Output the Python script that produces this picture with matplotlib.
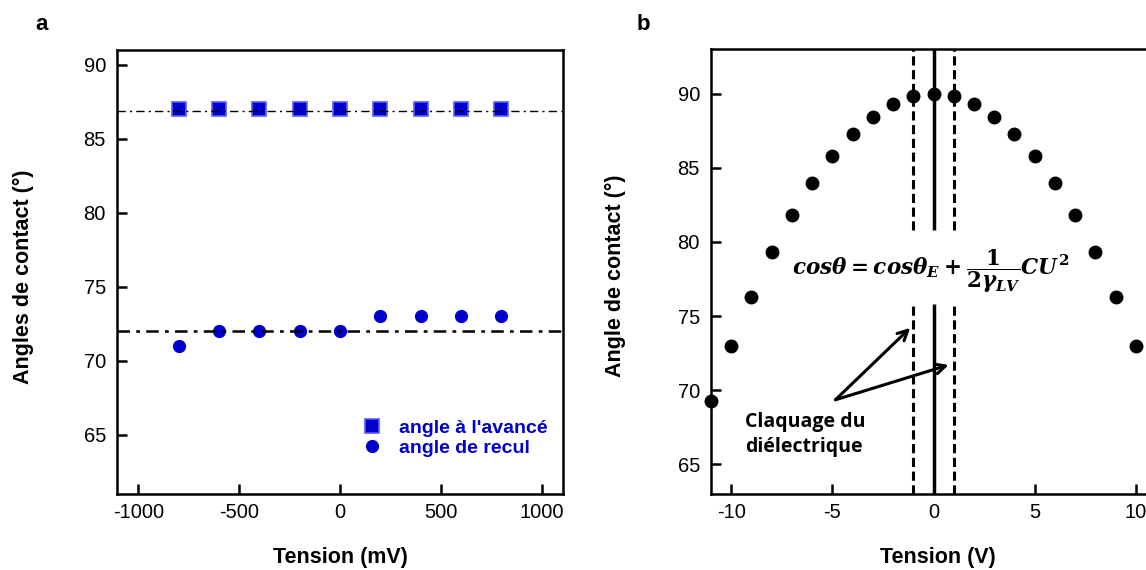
import matplotlib
matplotlib.use("Agg")
import matplotlib.pyplot as plt

# ---- data ----
tension_mv = [-800, -600, -400, -200, 0, 200, 400, 600, 800]
angle_avance = [87, 87, 87, 87, 87, 87, 87, 87, 87]
angle_recul = [71, 72, 72, 72, 72, 73, 73, 73, 73]
ref_avance = 86.9
ref_recul = 72.0

tension_v = [-11, -10, -9, -8, -7, -6, -5, -4, -3, -2, -1, 0,
             1, 2, 3, 4, 5, 6, 7, 8, 9, 10, 11]
angle_b = [69.3, 73.0, 76.3, 79.3, 81.8, 84.0, 85.8, 87.3, 88.4, 89.3, 89.8, 90.0,
           89.8, 89.3, 88.4, 87.3, 85.8, 84.0, 81.8, 79.3, 76.3, 73.0, 69.3]
claquage_x = [-1, 1]

xticks_a = [-1000, -500, 0, 500, 1000]
yticks_a = [65, 70, 75, 80, 85, 90]
xticks_b = [-10, -5, 0, 5, 10]
yticks_b = [65, 70, 75, 80, 85, 90]

plt.rcParams['font.family'] = ['Liberation Sans', 'DejaVu Sans']
plt.rcParams['axes.unicode_minus'] = False
plt.rcParams['mathtext.fontset'] = 'custom'
plt.rcParams['mathtext.it'] = 'DejaVu Serif:bold:italic'
plt.rcParams['mathtext.rm'] = 'DejaVu Serif:bold'
plt.rcParams['mathtext.bf'] = 'DejaVu Serif:bold'

W, H = 1146, 570
fig = plt.figure(figsize=(W / 100, H / 100), dpi=100)

blue = '#0000CC'

def style(ax):
    for s in ax.spines.values():
        s.set_linewidth(1.8)
    ax.tick_params(direction='in', length=7, width=1.8, labelsize=14.5,
                   top=False, right=False)
    ax.tick_params(axis='x', pad=6.5)
    ax.tick_params(axis='y', pad=8)

# ---- panel a ----
axa = fig.add_axes([117 / W, 1 - 494 / H, 446 / W, 444 / H])
style(axa)
axa.plot(tension_mv, angle_avance, linestyle='none', marker='s', markersize=10,
         markerfacecolor=blue, markeredgecolor='#5a5aff', markeredgewidth=1.2,
         label="angle à l'avancé", zorder=3)
axa.plot(tension_mv, angle_recul, linestyle='none', marker='o', markersize=8.5,
         color=blue, label='angle de recul', zorder=3)
axa.axhline(ref_avance, color='black', linestyle=(0, (6, 3, 1.5, 3)), linewidth=1.0, zorder=4)
axa.axhline(ref_recul, color='black', linestyle=(0, (5, 2.5, 1.5, 2.5)), linewidth=1.8, zorder=4)
axa.set_xlim(-1105, 1105)
axa.set_ylim(61, 91)
axa.set_xticks(xticks_a)
axa.set_yticks(yticks_a)
axa.set_xlabel('Tension (mV)', fontsize=15.5, fontweight='bold')
axa.set_ylabel('Angles de contact (°)', fontsize=15.5, fontweight='bold')
axa.xaxis.set_label_coords(0.5, -0.12)
axa.yaxis.set_label_coords(-0.185, 0.49)
leg = axa.legend(loc='lower right', bbox_to_anchor=(0.966, 0.083), frameon=False,
                 fontsize=14, handletextpad=0.8, labelspacing=0.12, handlelength=1.2,
                 borderaxespad=0, borderpad=0)
for t in leg.get_texts():
    t.set_color(blue)
    t.set_fontweight('bold')
fig.text(42 / W, 1 - 25 / H, 'a', fontsize=16, fontweight='bold', ha='center', va='center')

# ---- panel b ----
axb = fig.add_axes([711 / W, 1 - 494 / H, 445 / W, 445 / H])
style(axb)
axb.plot(tension_v, angle_b, linestyle='none', marker='o', markersize=9,
         color='black', clip_on=False, zorder=3)
axb.set_xlim(-11, 11)
axb.set_ylim(63, 93)
for xv in claquage_x:
    axb.vlines(xv, 80.8, 93, colors='black', linestyles=(0, (3, 1.5)), linewidth=2.2)
    axb.vlines(xv, 63, 75.8, colors='black', linestyles=(0, (3, 1.5)), linewidth=2.2)
axb.vlines(0, 80.8, 93, colors='black', linewidth=2.5)
axb.vlines(0, 63, 75.8, colors='black', linewidth=2.5)
axb.set_xticks(xticks_b)
axb.set_yticks(yticks_b)
axb.set_xlabel('Tension (V)', fontsize=15.5, fontweight='bold')
axb.set_ylabel('Angle de contact (°)', fontsize=15.5, fontweight='bold')
axb.xaxis.set_label_coords(0.51, -0.12)
axb.yaxis.set_label_coords(-0.19, 0.49)

axb.text(-0.15, 78.0, r'$cos\theta = cos\theta_E + \dfrac{1}{2\gamma_{LV}}CU^2$',
         fontsize=15.5, ha='center', va='center')
axb.text(-9.33, 67.0, 'Claquage du\ndiélectrique', fontsize=14, fontweight='bold',
         family=['Open Sans', 'DejaVu Sans'], ha='left', va='center', linespacing=1.3)
for hx, hy in [(-1.15, 74.2), (0.75, 71.7)]:
    axb.annotate('', xy=(hx, hy), xytext=(-4.85, 69.35),
                 arrowprops=dict(arrowstyle='->', color='black', lw=2.2,
                                 mutation_scale=18, shrinkA=0, shrinkB=0))
fig.text(643 / W, 1 - 25 / H, 'b', fontsize=16, fontweight='bold', ha='center', va='center')

fig.savefig('out.png', dpi=100)
